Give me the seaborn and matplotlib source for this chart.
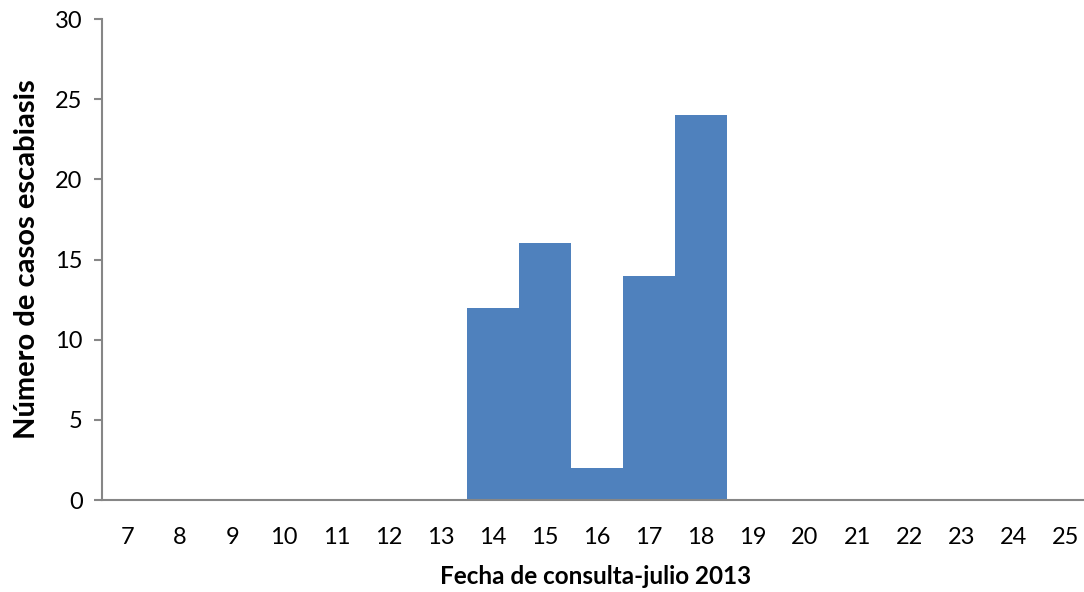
import matplotlib
matplotlib.use("Agg")
import matplotlib.pyplot as plt
import seaborn as sns
import pandas as pd

# ── Data ──────────────────────────────────────────────────────────────────────
dias = ["7", "8", "9", "10", "11", "12", "13", "14", "15", "16",
        "17", "18", "19", "20", "21", "22", "23", "24", "25"]
casos = [0, 0, 0, 0, 0, 0, 0, 12, 16, 2, 14, 24, 0, 0, 0, 0, 0, 0, 0]
y_ticks = [0, 5, 10, 15, 20, 25, 30]

df = pd.DataFrame({"dia": dias, "casos": casos})

# ── Style ─────────────────────────────────────────────────────────────────────
sns.set_style("white")
plt.rcParams["font.family"] = ["Lato", "DejaVu Sans"]

fig = plt.figure(figsize=(10.84, 5.92), dpi=100)
ax = fig.add_axes([0.0941, 0.1554, 0.906, 0.8125])

sns.barplot(data=df, x="dia", y="casos", order=dias, color="#4F81BD",
            saturation=1, width=1.0, linewidth=0, ax=ax)

ax.set_xlim(-0.5, 18.36)
ax.set_ylim(0, 30)
ax.set_yticks(y_ticks)

gray = "#868686"
for side in ["top", "right"]:
    ax.spines[side].set_visible(False)
for side in ["left", "bottom"]:
    ax.spines[side].set_color(gray)
    ax.spines[side].set_linewidth(1.5)

ax.tick_params(axis="y", which="both", left=True, length=6, width=1.5,
               color=gray, labelsize=17, pad=8, labelcolor="black")
ax.tick_params(axis="x", bottom=False, labelsize=17, pad=16, labelcolor="black")

ax.set_ylabel("Número de casos escabiasis", fontsize=21, fontweight="bold",
              color="black")
ax.set_xlabel("Fecha de consulta-julio 2013", fontsize=17.5, fontweight="bold",
              color="black")
ax.yaxis.set_label_coords(-0.0764, 0.5)
ax.xaxis.set_label_coords(0.503, -0.158)
ax.yaxis.label.set_va("center")
ax.xaxis.label.set_va("center")

fig.savefig("out.png", dpi=100)
